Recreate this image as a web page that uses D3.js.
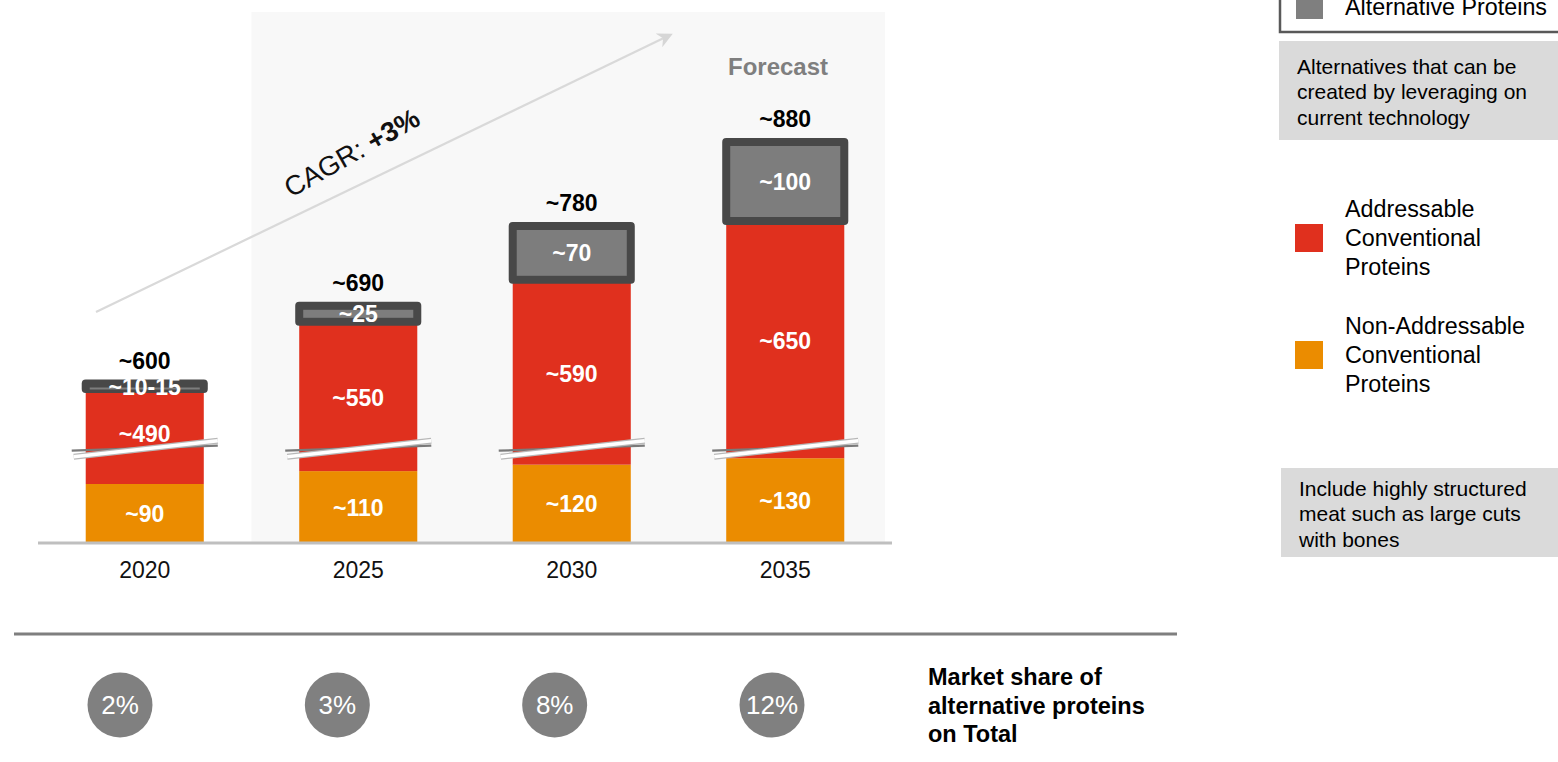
<!DOCTYPE html>
<html>
<head>
<meta charset="utf-8">
<script src="https://cdn.jsdelivr.net/npm/d3@7"></script>
<style>
  html, body { margin: 0; padding: 0; background: #ffffff; }
  svg { display: block; font-family: "Liberation Sans", Arial, Helvetica, sans-serif; }
</style>
</head>
<body>
<svg id="chart" width="1558" height="762"></svg>
<script>
// Protein market volumes by year (approximate values)
const years = ["2020", "2025", "2030", "2035"];
const nonAddressable = [90, 110, 120, 130];
const addressable = [490, 550, 590, 650];
const alternative = [12.5, 25, 70, 100];
const nonAddressableLabels = ["~90", "~110", "~120", "~130"];
const addressableLabels = ["~490", "~550", "~590", "~650"];
const alternativeLabels = ["~10-15", "~25", "~70", "~100"];
const totalLabels = ["~600", "~690", "~780", "~880"];
const marketShare = ["2%", "3%", "8%", "12%"];

const legendItems = [
  { lines: ["Addressable", "Conventional", "Proteins"], color: "#e0301e", y: 238 },
  { lines: ["Non-Addressable", "Conventional", "Proteins"], color: "#eb8c00", y: 355 }
];

const COLORS = {
  orange: "#eb8c00",
  red: "#e0301e",
  capOuter: "#484848",
  capInner: "#7d7d7d",
  panel: "#f8f8f8",
  axis: "#bfbfbf",
  note: "#dadada"
};

const svg = d3.select("#chart");

// Scales: band positions for the years, broken linear scale for volume
const x = d3.scaleBand().domain(years).range([38, 892])
  .paddingInner(0.447).paddingOuter(0.2235);
const bw = x.bandwidth();
const breakLow = 135, breakHigh = 520;
const y = d3.scaleLinear().domain([0, breakLow, breakHigh, 900]).range([542, 455, 442.4, 123.2]);

// Forecast background panel behind 2025-2035
const panelX0 = (x("2020") + bw + x("2025")) / 2;
svg.append("rect")
  .attr("x", panelX0).attr("y", 12)
  .attr("width", x.range()[1] - 7 - panelX0).attr("height", y(0) - 12)
  .attr("fill", COLORS.panel);

// CAGR arrow
svg.append("defs").append("marker")
  .attr("id", "arrowHead").attr("viewBox", "0 0 10 10")
  .attr("refX", 8).attr("refY", 5)
  .attr("markerWidth", 7).attr("markerHeight", 7)
  .attr("orient", "auto")
  .append("path").attr("d", "M0,0 L10,5 L0,10 L3,5 Z").attr("fill", "#d6d6d6");

svg.append("line")
  .attr("x1", 96).attr("y1", 312).attr("x2", 670).attr("y2", 35)
  .attr("stroke", "#d9d9d9").attr("stroke-width", 2.2)
  .attr("marker-end", "url(#arrowHead)");

const cagr = svg.append("text")
  .attr("transform", "translate(291,198) rotate(-29.5)")
  .attr("font-size", 27.5).attr("fill", "#111");
cagr.append("tspan").text("CAGR: ");
cagr.append("tspan").attr("font-weight", "bold").text("+3%");

svg.append("text")
  .attr("x", 778).attr("y", 75)
  .attr("text-anchor", "middle").attr("font-size", 24).attr("font-weight", "bold")
  .attr("fill", "#7f7f7f").text("Forecast");

// Stacked bars
const rows = years.map((yr, i) => {
  const o = nonAddressable[i];
  const r = o + addressable[i];
  const t = r + alternative[i];
  return { yr, i, o, r, t };
});

const g = svg.append("g");

// Non-addressable (bottom)
g.selectAll("rect.nonaddr").data(rows).join("rect")
  .attr("class", "nonaddr")
  .attr("x", d => x(d.yr)).attr("width", bw)
  .attr("y", d => y(d.o)).attr("height", d => y(0) - y(d.o))
  .attr("fill", COLORS.orange);

// Addressable (middle)
g.selectAll("rect.addr").data(rows).join("rect")
  .attr("class", "addr")
  .attr("x", d => x(d.yr)).attr("width", bw)
  .attr("y", d => y(d.r)).attr("height", d => y(d.o) - y(d.r))
  .attr("fill", COLORS.red);

// Alternative proteins cap: dark frame with lighter inner fill
const capPad = 4, capBorder = 8;
g.selectAll("rect.capOuter").data(rows).join("rect")
  .attr("class", "capOuter")
  .attr("x", d => x(d.yr) - capPad).attr("width", bw + 2 * capPad)
  .attr("y", d => y(d.t) - 2).attr("height", d => y(d.r) - y(d.t) + 3)
  .attr("rx", 4).attr("fill", COLORS.capOuter);

g.selectAll("rect.capInner").data(rows).join("rect")
  .attr("class", "capInner")
  .attr("x", d => x(d.yr) - capPad + capBorder).attr("width", bw + 2 * capPad - 2 * capBorder)
  .attr("y", d => y(d.t) - 2 + capBorder)
  .attr("height", d => Math.max(2, y(d.r) - y(d.t) + 3 - 2 * capBorder))
  .attr("fill", COLORS.capInner);

// Axis break marks across each bar
const yBreak = (y(breakLow) + y(breakHigh)) / 2;
const brk = g.selectAll("g.brk").data(rows).join("g").attr("class", "brk");
brk.append("line")
  .attr("x1", d => x(d.yr) - 14).attr("x2", d => x(d.yr) + bw + 14)
  .attr("y1", yBreak + 2).attr("y2", yBreak - 3)
  .attr("stroke", "#7a7a7a").attr("stroke-width", 2.2);
brk.append("line")
  .attr("x1", d => x(d.yr) - 12).attr("x2", d => x(d.yr) + bw + 14)
  .attr("y1", yBreak + 8).attr("y2", yBreak - 8)
  .attr("stroke", "#b8b8b8").attr("stroke-width", 6);
brk.append("line")
  .attr("x1", d => x(d.yr) - 12).attr("x2", d => x(d.yr) + bw + 14)
  .attr("y1", yBreak + 8).attr("y2", yBreak - 8)
  .attr("stroke", "#ffffff").attr("stroke-width", 3.6);

// Segment labels
const cx = d => x(d.yr) + bw / 2;
const labelStyle = sel => sel.attr("text-anchor", "middle").attr("font-size", 23)
  .attr("font-weight", "bold").attr("dominant-baseline", "central");

labelStyle(g.selectAll("text.lo").data(rows).join("text").attr("class", "lo")
  .attr("x", cx).attr("y", d => (y(0) + y(d.o)) / 2 + 1)
  .attr("fill", "#fff").text(d => nonAddressableLabels[d.i]));

// red label kept above the axis break
labelStyle(g.selectAll("text.lr").data(rows).join("text").attr("class", "lr")
  .attr("x", cx).attr("y", d => Math.min((y(d.o) + y(d.r)) / 2, y(breakHigh) - 8))
  .attr("fill", "#fff").text(d => addressableLabels[d.i]));

labelStyle(g.selectAll("text.la").data(rows).join("text").attr("class", "la")
  .attr("x", cx).attr("y", d => (y(d.r) + y(d.t)) / 2)
  .attr("fill", "#fff").text(d => alternativeLabels[d.i]));

labelStyle(g.selectAll("text.lt").data(rows).join("text").attr("class", "lt")
  .attr("x", cx).attr("y", d => y(d.t) - 21)
  .attr("fill", "#000").text(d => totalLabels[d.i]));

// Baseline and year labels
svg.append("line")
  .attr("x1", x.range()[0]).attr("x2", x.range()[1])
  .attr("y1", y(0) + 1).attr("y2", y(0) + 1)
  .attr("stroke", COLORS.axis).attr("stroke-width", 3);

svg.selectAll("text.year").data(years).join("text")
  .attr("class", "year")
  .attr("x", d => x(d) + bw / 2).attr("y", 570)
  .attr("text-anchor", "middle").attr("dominant-baseline", "central")
  .attr("font-size", 23).attr("fill", "#111").text(d => d);

// Separator above market share row
svg.append("line")
  .attr("x1", 14).attr("x2", 1177).attr("y1", 634).attr("y2", 634)
  .attr("stroke", "#7f7f7f").attr("stroke-width", 3);

// Market share bubbles
const xs = d3.scalePoint().domain(years).range([120, 772]);
const bub = svg.selectAll("g.share").data(years).join("g")
  .attr("class", "share")
  .attr("transform", d => `translate(${xs(d)},705)`);
bub.append("circle").attr("r", 32.5).attr("fill", "#808080");
bub.append("text")
  .attr("text-anchor", "middle").attr("dominant-baseline", "central")
  .attr("font-size", 26).attr("fill", "#fff")
  .text((d, i) => marketShare[i]);

const msLabel = svg.append("text").attr("x", 928).attr("font-size", 23.5)
  .attr("font-weight", "bold").attr("fill", "#000");
["Market share of", "alternative proteins", "on Total"].forEach((t, i) => {
  msLabel.append("tspan").attr("x", 928).attr("y", 677 + i * 28.5)
    .attr("dominant-baseline", "central").text(t);
});

// Legend: alternative proteins (framed box at top)
svg.append("rect")
  .attr("x", 1280).attr("y", -10).attr("width", 300).attr("height", 42)
  .attr("fill", "#fff").attr("stroke", "#595959").attr("stroke-width", 2.5);
svg.append("rect")
  .attr("x", 1296).attr("y", -8).attr("width", 27).attr("height", 27)
  .attr("fill", "#7f7f7f");
svg.append("text")
  .attr("x", 1345).attr("y", 7).attr("dominant-baseline", "central")
  .attr("font-size", 23.3).attr("fill", "#000").text("Alternative Proteins");

// Note boxes
function noteBox(x0, y0, w, h, tx, ty, lines) {
  svg.append("rect").attr("x", x0).attr("y", y0).attr("width", w).attr("height", h)
    .attr("fill", COLORS.note);
  const t = svg.append("text").attr("font-size", 21).attr("fill", "#000");
  lines.forEach((s, i) => {
    t.append("tspan").attr("x", tx).attr("y", ty + i * 25.7)
      .attr("dominant-baseline", "central").text(s);
  });
}
noteBox(1279, 41, 285, 99, 1297, 66,
  ["Alternatives that can be", "created by leveraging on", "current technology"]);
noteBox(1281, 468, 283, 89, 1299, 488,
  ["Include highly structured", "meat such as large cuts", "with bones"]);

// Legend: conventional proteins
legendItems.forEach(item => {
  svg.append("rect")
    .attr("x", 1295).attr("y", item.y - 14).attr("width", 28).attr("height", 28)
    .attr("fill", item.color);
  const t = svg.append("text").attr("font-size", 23.3).attr("fill", "#000");
  item.lines.forEach((s, i) => {
    t.append("tspan").attr("x", 1345).attr("y", item.y + (i - 1) * 28.7)
      .attr("dominant-baseline", "central").text(s);
  });
});
</script>
</body>
</html>
